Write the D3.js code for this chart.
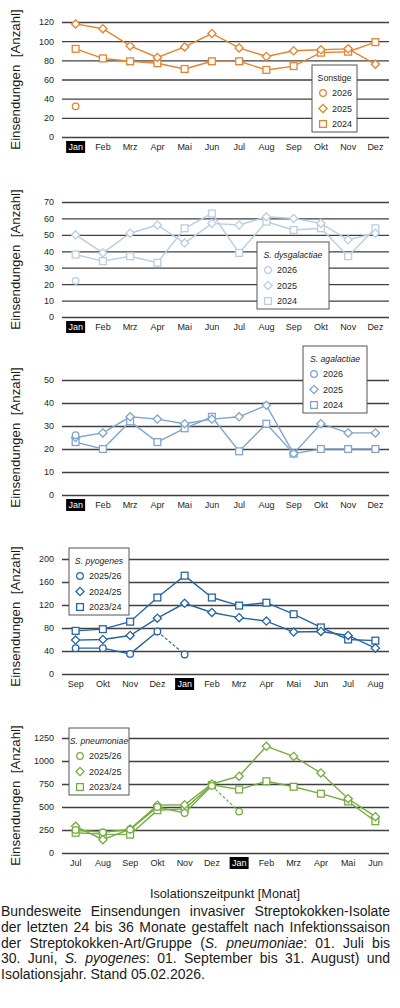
<!DOCTYPE html>
<html>
<head>
<meta charset="utf-8">
<script src="https://cdn.jsdelivr.net/npm/d3@7/dist/d3.min.js"></script>
<style>
  body { margin: 0; background: #fff; }
  #wrap { position: relative; width: 400px; height: 1008px; overflow: hidden; }
  svg { position: absolute; left: 0; top: 0; }
  #caption {
    position: absolute; left: 1px; top: 904px; width: 389px;
    font-family: Arial, "Liberation Sans", sans-serif; font-size: 14px;
    line-height: 15.8px; color: #1a1a1a;
  }
  #caption div { white-space: nowrap; text-align: justify; text-align-last: justify; }
  #caption div.last { text-align-last: left; }
</style>
</head>
<body>
<div id="wrap">
<svg id="chart" width="400" height="1008"></svg>
<div id="caption">
  <div>Bundesweite Einsendungen invasiver Streptokokken-Isolate</div>
  <div>der letzten 24 bis 36 Monate gestaffelt nach Infektionssaison</div>
  <div>der Streptokokken-Art/Gruppe (<i>S. pneumoniae</i>: 01. Juli bis</div>
  <div>30. Juni, <i>S. pyogenes</i>: 01. September bis 31. August) und</div>
  <div class="last">Isolationsjahr. Stand 05.02.2026.</div>
</div>
</div>
<script>
// month labels
var monthsCal = ['Jan', 'Feb', 'Mrz', 'Apr', 'Mai', 'Jun', 'Jul', 'Aug', 'Sep', 'Okt', 'Nov', 'Dez'];
var monthsPyo = ['Sep', 'Okt', 'Nov', 'Dez', 'Jan', 'Feb', 'Mrz', 'Apr', 'Mai', 'Jun', 'Jul', 'Aug'];
var monthsPneu = ['Jul', 'Aug', 'Sep', 'Okt', 'Nov', 'Dez', 'Jan', 'Feb', 'Mrz', 'Apr', 'Mai', 'Jun'];

// Sonstige
var sonst2026 = [32];
var sonst2025 = [118, 113, 95, 83, 94, 108, 93, 84, 90, 91, 92, 76];
var sonst2024 = [92, 82, 79, 77, 71, 79, 79, 70, 74, 88, 89, 99];
var ticksSonst = [0, 20, 40, 60, 80, 100, 120];

// S. dysgalactiae
var dysg2026 = [22];
var dysg2025 = [50, 39, 51, 56, 45, 57, 56, 61, 60, 57, 47, 51];
var dysg2024 = [38, 34, 37, 33, 54, 63, 39, 58, 53, 54, 37, 54];
var ticksDysg = [0, 10, 20, 30, 40, 50, 60, 70];

// S. agalactiae
var agal2026 = [26];
var agal2025 = [25, 27, 34, 33, 31, 33, 34, 39, 18, 31, 27, 27];
var agal2024 = [23, 20, 32, 23, 29, 34, 19, 31, 18, 20, 20, 20];
var ticksAgal = [0, 10, 20, 30, 40, 50];

// S. pyogenes (season Sep-Aug)
var pyo2526 = [45, 45, 35, 74, 34];
var pyo2425 = [59, 60, 67, 97, 123, 107, 98, 92, 73, 74, 67, 45];
var pyo2324 = [75, 78, 91, 133, 171, 133, 119, 124, 104, 81, 60, 58];
var ticksPyo = [0, 40, 80, 120, 160, 200];

// S. pneumoniae (season Jul-Jun)
var pneu2526 = [250, 225, 255, 500, 435, 730, 450];
var pneu2425 = [290, 145, 260, 520, 525, 750, 835, 1160, 1050, 870, 590, 395];
var pneu2324 = [220, 205, 200, 465, 480, 740, 690, 780, 720, 645, 560, 345];
var ticksPneu = [0, 250, 500, 750, 1000, 1250];

var FONT = 'Arial, "Liberation Sans", sans-serif';
var X0 = 62, X1 = 389;

var panels = [
    { top: 22, bottom: 137, months: monthsCal, max: 120, ticks: ticksSonst, color: '#E9822E',
      series: [{ name: '2026', shape: 'circle', values: sonst2026 },
               { name: '2025', shape: 'diamond', values: sonst2025 },
               { name: '2024', shape: 'square', values: sonst2024 }],
      legend: { x: 312, y: 65, w: 45, title: 'Sonstige', italic: false } },
    { top: 202, bottom: 317, months: monthsCal, max: 70, ticks: ticksDysg, color: '#B9CDE5',
      series: [{ name: '2026', shape: 'circle', values: dysg2026 },
               { name: '2025', shape: 'diamond', values: dysg2025 },
               { name: '2024', shape: 'square', values: dysg2024 }],
      legend: { x: 257, y: 242, w: 72, title: 'S. dysgalactiae', italic: true } },
    { top: 380, bottom: 495, months: monthsCal, max: 50, ticks: ticksAgal, color: '#7FA4D0',
      series: [{ name: '2026', shape: 'circle', values: agal2026 },
               { name: '2025', shape: 'diamond', values: agal2025 },
               { name: '2024', shape: 'square', values: agal2024 }],
      legend: { x: 303, y: 346, w: 64, title: 'S. agalactiae', italic: true } },
    { top: 559, bottom: 674, months: monthsPyo, max: 200, ticks: ticksPyo, color: '#2664A8',
      series: [{ name: '2025/26', shape: 'circle', values: pyo2526, dashLast: true },
               { name: '2024/25', shape: 'diamond', values: pyo2425 },
               { name: '2023/24', shape: 'square', values: pyo2324 }],
      legend: { x: 69, y: 548, w: 60, title: 'S. pyogenes', italic: true } },
    { top: 738, bottom: 853, months: monthsPneu, max: 1250, ticks: ticksPneu, color: '#76AD42',
      series: [{ name: '2025/26', shape: 'circle', values: pneu2526, dashLast: true },
               { name: '2024/25', shape: 'diamond', values: pneu2425 },
               { name: '2023/24', shape: 'square', values: pneu2324 }],
      legend: { x: 69, y: 728, w: 60, title: 'S. pneumoniae', italic: true } }
];

var svg = d3.select('#chart');

function drawMarker(g, shape, cx, cy, color) {
    if (shape === 'circle') {
        g.append('circle').attr('cx', cx).attr('cy', cy).attr('r', 3.3)
            .attr('fill', '#fff').attr('stroke', color).attr('stroke-width', 1.3);
    } else if (shape === 'square') {
        g.append('rect').attr('x', cx - 3.4).attr('y', cy - 3.4).attr('width', 6.8).attr('height', 6.8)
            .attr('fill', '#fff').attr('stroke', color).attr('stroke-width', 1.3);
    } else {
        var s = 4.1;
        g.append('path')
            .attr('d', 'M' + cx + ',' + (cy - s) + 'L' + (cx + s) + ',' + cy + 'L' + cx + ',' + (cy + s) + 'L' + (cx - s) + ',' + cy + 'Z')
            .attr('fill', '#fff').attr('stroke', color).attr('stroke-width', 1.3);
    }
}

panels.forEach(function (p) {
    var g = svg.append('g');
    var x = d3.scaleBand().domain(p.months).range([X0, X1]);
    var y = d3.scaleLinear().domain([0, p.max]).range([p.bottom, p.top]);
    var cx = function (i) { return x(p.months[i]) + x.bandwidth() / 2; };

    // gridlines + y labels
    var yAxis = g.append('g')
        .attr('transform', 'translate(' + X0 + ',0)')
        .call(d3.axisLeft(y).tickValues(p.ticks).tickFormat(d3.format('d'))
            .tickSize(-(X1 - X0)).tickPadding(8));
    yAxis.select('.domain').remove();
    yAxis.selectAll('line').attr('stroke', '#404040').attr('stroke-width', 1.3);
    yAxis.selectAll('text').attr('font-family', FONT).attr('font-size', 9).attr('fill', '#262626');

    // month labels
    var xAxis = g.append('g')
        .attr('transform', 'translate(0,' + p.bottom + ')')
        .call(d3.axisBottom(x).tickSize(0).tickPadding(7));
    xAxis.select('.domain').remove();
    xAxis.selectAll('text').attr('font-family', FONT).attr('font-size', 9).attr('fill', '#262626');
    xAxis.selectAll('.tick').filter(function (d) { return d === 'Jan'; })
        .each(function () {
            var t = d3.select(this);
            t.insert('rect', 'text').attr('x', -9.5).attr('y', 4).attr('width', 19).attr('height', 12).attr('fill', '#000');
            t.select('text').attr('fill', '#fff');
        });

    // y title
    g.append('text')
        .attr('transform', 'translate(15,' + ((p.top + p.bottom) / 2 + 0) + ') rotate(-90)')
        .attr('text-anchor', 'middle').attr('dy', '0.35em')
        .attr('font-family', FONT).attr('font-size', 13.3).attr('fill', '#1a1a1a')
        .attr('xml:space', 'preserve')
        .text('Einsendungen  [Anzahl]');

    // lines (draw older series first)
    var line = d3.line().x(function (d, i) { return cx(i); }).y(function (d) { return y(d); });
    var order = p.series.slice().reverse();
    order.forEach(function (s) {
        var vals = s.values;
        if (vals.length < 2) return;
        if (s.dashLast) {
            g.append('path').datum(vals.slice(0, vals.length - 1)).attr('d', line)
                .attr('fill', 'none').attr('stroke', p.color).attr('stroke-width', 1.4);
            var n = vals.length;
            g.append('line')
                .attr('x1', cx(n - 2)).attr('y1', y(vals[n - 2]))
                .attr('x2', cx(n - 1)).attr('y2', y(vals[n - 1]))
                .attr('stroke', p.color).attr('stroke-width', 1.2).attr('stroke-dasharray', '3,2');
        } else {
            g.append('path').datum(vals).attr('d', line)
                .attr('fill', 'none').attr('stroke', p.color).attr('stroke-width', 1.4);
        }
    });
    order.forEach(function (s) {
        s.values.forEach(function (v, i) { drawMarker(g, s.shape, cx(i), y(v), p.color); });
    });

    // legend
    var L = p.legend;
    var lg = g.append('g').attr('transform', 'translate(' + L.x + ',' + L.y + ')');
    lg.append('rect').attr('width', L.w).attr('height', 67)
        .attr('fill', '#fff').attr('stroke', '#555').attr('stroke-width', 1);
    lg.append('text').attr('x', L.w / 2).attr('y', 12.5).attr('dy', '0.35em')
        .attr('text-anchor', 'middle').attr('font-family', FONT).attr('font-size', 8.7)
        .attr('font-style', L.italic ? 'italic' : 'normal').attr('fill', '#262626')
        .text(L.title);
    var rows = [28, 43.5, 59];
    p.series.forEach(function (s, i) {
        drawMarker(lg, s.shape, 11, rows[i], p.color);
        lg.append('text').attr('x', 20).attr('y', rows[i]).attr('dy', '0.35em')
            .attr('font-family', FONT).attr('font-size', 9).attr('fill', '#262626')
            .text(s.name);
    });
});

// shared x title
svg.append('text').attr('x', 225).attr('y', 898)
    .attr('text-anchor', 'middle').attr('font-family', FONT).attr('font-size', 12.7)
    .attr('fill', '#1a1a1a').text('Isolationszeitpunkt [Monat]');
</script>
</body>
</html>
